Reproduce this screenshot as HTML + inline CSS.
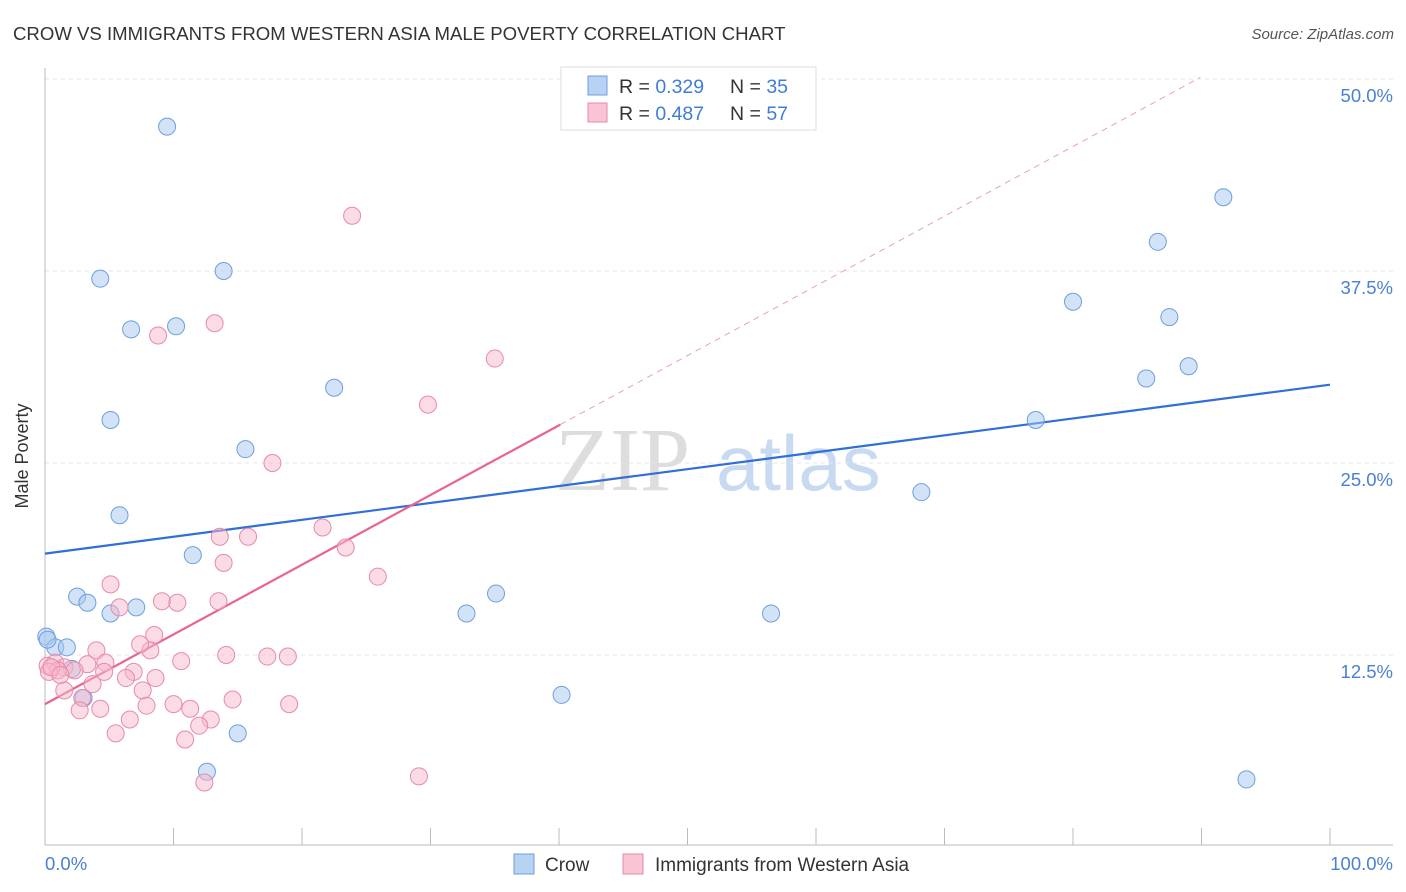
<!DOCTYPE html>
<html><head><meta charset="utf-8"><style>
body{margin:0;background:#fff;font-family:"Liberation Sans",sans-serif}
svg{display:block}
</style></head><body>
<svg id="chart" width="1406" height="892" xmlns="http://www.w3.org/2000/svg">
<text x="13" y="40" font-size="18.6" fill="#333">CROW VS IMMIGRANTS FROM WESTERN ASIA MALE POVERTY CORRELATION CHART</text>
<text x="1394" y="39" font-size="15" fill="#555" font-style="italic" text-anchor="end">Source: ZipAtlas.com</text>
<g><text x="555" y="490" font-size="90" fill="#ddd" font-family="Liberation Serif,serif">ZIP</text><text x="716" y="490" font-size="78" fill="#c8daf2">atlas</text></g>
<g id="grid"></g><g id="axes"></g><g id="lines"></g><g id="pts"></g>
<text x="28" y="456" font-size="18" fill="#333" text-anchor="middle" transform="rotate(-90 28 456)">Male Poverty</text>
<g>
<rect x="561" y="67" width="255" height="63" fill="#fff" stroke="#ddd"/>
<rect x="588" y="76" width="19" height="19" fill="#b8d2f4" stroke="#6c9fdf"/>
<text x="619" y="93" font-size="19.5" fill="#333">R = <tspan fill="#3f7dd6">0.329</tspan></text>
<text x="730" y="93" font-size="19.5" fill="#333">N = <tspan fill="#3f7dd6">35</tspan></text>
<rect x="588" y="103" width="19" height="19" fill="#f9c4d4" stroke="#e88aa8"/>
<text x="619" y="120" font-size="19.5" fill="#333">R = <tspan fill="#3f7dd6">0.487</tspan></text>
<text x="730" y="120" font-size="19.5" fill="#333">N = <tspan fill="#3f7dd6">57</tspan></text>
</g>
<g>
<rect x="514" y="854" width="20" height="20" fill="#b8d2f4" stroke="#6c9fdf"/>
<text x="545" y="871" font-size="19" fill="#333">Crow</text>
<rect x="623" y="854" width="20" height="20" fill="#f9c4d4" stroke="#e88aa8"/>
<text x="655" y="871" font-size="19" fill="#333">Immigrants from Western Asia</text>
</g>
</svg>
<script>
const crowX=[9.5,4.3,13.9,6.7,10.2,5.1,22.5,15.6,5.8,11.5,2.5,3.3,7.1,5.1,0.1,0.8,1.7,2.1,3.0,15.0,12.6,32.8,35.1,40.2,56.5,68.2,77.1,80.0,86.6,87.5,85.7,89.0,91.7,93.5,0.2];
const crowY=[46.9,37.0,37.5,33.7,33.9,27.8,29.9,25.9,21.6,19.0,16.3,15.9,15.6,15.2,13.7,13.0,13.0,11.6,9.7,7.4,4.9,15.2,16.5,9.9,15.2,23.1,27.8,35.5,39.4,34.5,30.5,31.3,42.3,4.4,13.5];
const immX=[23.9,13.2,8.8,35.0,29.8,17.7,21.6,15.8,13.6,13.9,23.4,25.9,5.1,9.1,10.3,13.5,5.8,8.5,4.0,8.2,7.4,14.1,17.3,18.9,10.6,0.2,0.8,1.5,3.3,4.7,1.0,0.3,2.3,4.6,6.9,6.3,8.6,3.7,1.5,7.6,2.9,14.6,19.0,10.0,7.9,11.3,4.3,2.7,6.6,12.9,12.0,5.5,10.9,12.4,29.1,0.5,1.2];
const immY=[41.1,34.1,33.3,31.8,28.8,25.0,20.8,20.2,20.2,18.5,19.5,17.6,17.1,16.0,15.9,16.0,15.6,13.8,12.8,12.8,13.2,12.5,12.4,12.4,12.1,11.8,12.0,11.7,11.9,12.0,11.5,11.4,11.5,11.4,11.4,11.0,11.0,10.6,10.2,10.2,9.7,9.6,9.3,9.3,9.2,9.0,9.0,8.9,8.3,8.3,7.9,7.4,7.0,4.2,4.6,11.7,11.2];
const crowTrend=[0,19.1,100,30.1];
const immTrend=[0,9.3,40.1,27.5,89.9,50.1];
const yTicks=[12.5,25,37.5,50];
const yTickLabels=["12.5%","25.0%","37.5%","50.0%"];
const NS="http://www.w3.org/2000/svg";
const sx=v=>45+v*12.85, sy=v=>847-v*15.36;
function mk(p,t,a){const e=document.createElementNS(NS,t);for(const k in a)e.setAttribute(k,a[k]);document.getElementById(p).appendChild(e);return e;}
yTicks.forEach((t,i)=>{
 const g=mk('grid','line',{x1:45,x2:1393,y1:sy(t),y2:sy(t),stroke:'#e4e4e4','stroke-dasharray':'4,4'});
 
 
 const l=mk('axes','text',{x:1393,y:sy(t)+23,'font-size':18.5,fill:'#4a7fd4','text-anchor':'end'});
 l.textContent=yTickLabels[i];
 
 
});
const ax=mk('axes','line',{x1:45,x2:1393,y1:845,y2:845,stroke:'#bbb'});


const ay=mk('axes','line',{x1:45,x2:45,y1:68,y2:845,stroke:'#bbb'});


for(let i=0;i<=10;i++){const t=mk('axes','line',{x1:sx(i*10),x2:sx(i*10),y1:828,y2:845,stroke:'#bbb'});
 
 }
const x0=mk('axes','text',{x:45,y:870,'font-size':18.5,fill:'#4a7fd4'});x0.textContent='0.0%';


const x1=mk('axes','text',{x:1393,y:870,'font-size':18.5,fill:'#4a7fd4','text-anchor':'end'});x1.textContent='100.0%';


crowX.forEach((x,i)=>{const c=mk('pts','circle',{cx:sx(x),cy:sy(crowY[i]),r:8.5,fill:'rgba(168,200,240,0.5)',stroke:'#6c9fdf','stroke-width':1});
 
 });
immX.forEach((x,i)=>{const c=mk('pts','circle',{cx:sx(x),cy:sy(immY[i]),r:8.5,fill:'rgba(247,184,204,0.5)',stroke:'#e88aa8','stroke-width':1});
 
 });
const bl=mk('lines','line',{x1:sx(crowTrend[0]),y1:sy(crowTrend[1]),x2:sx(crowTrend[2]),y2:sy(crowTrend[3]),stroke:'#2f6fd6','stroke-width':2.2});


const pl=mk('lines','line',{x1:sx(immTrend[0]),y1:sy(immTrend[1]),x2:sx(immTrend[2]),y2:sy(immTrend[3]),stroke:'#e8648f','stroke-width':2.2});


const pd=mk('lines','line',{x1:sx(immTrend[2]),y1:sy(immTrend[3]),x2:sx(immTrend[4]),y2:sy(immTrend[5]),stroke:'#e8a0b8','stroke-width':1,'stroke-dasharray':'6,5'});


</script>
</body></html>
